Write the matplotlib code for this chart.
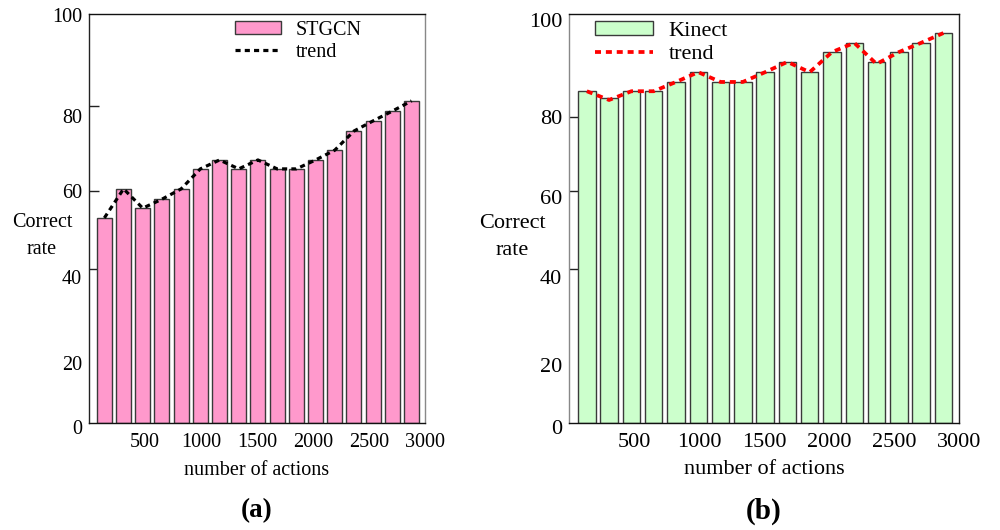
import numpy as np
import matplotlib
matplotlib.use("Agg")
import matplotlib.pyplot as plt
from matplotlib.transforms import ScaledTranslation

plt.rcParams['font.family'] = ['Liberation Serif', 'DejaVu Serif']

# ---------------- data ----------------
x_ticks = [500, 1000, 1500, 2000, 2500, 3000]
y_ticks = [0, 20, 40, 60, 80, 100]

stgcn = [53.1, 60.5, 55.6, 57.9, 60.5, 65.2, 67.3, 65.2, 67.3, 65.2, 65.2,
         67.3, 69.6, 74.1, 76.5, 78.8, 81.1]
stgcn_trend = [53.1, 60.5, 55.6, 57.9, 60.5, 65.2, 67.3, 65.2, 67.3, 65.2, 65.2,
               67.3, 69.6, 74.1, 76.5, 78.8, 81.1]
kinect = [85.0, 83.7, 85.0, 85.0, 86.8, 88.7, 86.8, 86.8, 88.7, 90.7, 88.7,
          92.6, 94.4, 90.7, 92.6, 94.4, 96.3]
kinect_trend = [85.0, 83.3, 85.0, 85.0, 86.8, 88.7, 86.8, 86.8, 88.7, 90.7, 88.7,
                92.6, 94.4, 90.3, 92.6, 94.4, 96.3]

# the original y axes are drawn with uneven spacing between tick marks
left_tick_frac = [0.0, 0.1467, 0.3765, 0.5672, 0.7751, 1.0]
right_tick_frac = [0.0, 0.1418, 0.3765, 0.5672, 0.7482, 1.0]
left_label_shift_px = [4, 0, 8, 0, 10, 1]
right_label_shift_px = [4, 0, 8, 6, 0, 6]

fig = plt.figure(figsize=(10, 5.3), dpi=100)


def make_panel(rect, values, trend, fracs, shifts, bar_color, line_color,
               name, letter, fs, lab_xy, leg_anchor, handlelen, lw_line, dash,
               left_spine_col, right_spine_col, xlabelpad):
    ax = fig.add_axes(rect)
    fwd = lambda v: np.interp(v, y_ticks, fracs)
    inv = lambda f: np.interp(f, fracs, y_ticks)
    ax.set_yscale('function', functions=(fwd, inv))
    n = len(values)
    step = 3000 / 17.5
    xs = (np.arange(n) + 0.8) * step
    bars = ax.bar(xs, values, width=134, color=bar_color, edgecolor='#3a3a3a',
                  linewidth=1.0, label=name, zorder=2)
    ln, = ax.plot(xs, trend, color=line_color, linewidth=lw_line,
                  linestyle=(0, dash), label='trend', zorder=3)
    ax.set_xlim(0, 3000)
    ax.set_ylim(0, 100)
    ax.set_xticks(x_ticks)
    ax.set_xticklabels([str(t) for t in x_ticks], fontsize=fs)
    ax.set_yticks(y_ticks)
    ax.set_yticklabels([str(t) for t in y_ticks], fontsize=fs)
    ax.yaxis.set_minor_locator(matplotlib.ticker.NullLocator())
    ax.tick_params(axis='x', length=0, pad=7)
    ax.tick_params(axis='y', direction='in', length=7, width=1, pad=5,
                   color='#222')
    for tk, sh, v in zip(ax.yaxis.get_major_ticks(), shifts, y_ticks):
        tk.label1.set_transform(tk.label1.get_transform() +
                                ScaledTranslation(0, -sh / 100, fig.dpi_scale_trans))
        if v in (0, 20, 100):
            tk.tick1line.set_visible(False)
    for s in ax.spines.values():
        s.set_linewidth(1.0)
        s.set_color('#111')
    ax.spines['left'].set_color(left_spine_col)
    ax.spines['right'].set_color(right_spine_col)
    ax.set_xlabel('number of actions', fontsize=fs, labelpad=xlabelpad)
    ax.set_ylabel('Correct\nrate', rotation=0, fontsize=fs, ha='center',
                  va='center', linespacing=1.55)
    ax.yaxis.set_label_coords(*lab_xy)
    ax.legend(handles=[bars, ln], loc='upper left', bbox_to_anchor=leg_anchor,
              frameon=False, fontsize=fs, handlelength=handlelen,
              handleheight=0.6, handletextpad=0.7, labelspacing=0.15,
              borderpad=0, borderaxespad=0)
    ax.text(0.5, -0.215, letter, transform=ax.transAxes, ha='center',
            va='center', fontsize=fs + 5, fontweight='bold')
    return ax


make_panel([0.089, 0.2019, 0.336, 0.7717], stgcn, stgcn_trend,
           left_tick_frac, left_label_shift_px, '#FF99CC', 'black', 'STGCN',
           '(a)', 14.5, (-0.14, 0.457), (0.435, 0.983), 2.3, 2.3, (1.6, 1.3),
           '#222', '#888', 7)
make_panel([0.569, 0.2019, 0.390, 0.7717], kinect, kinect_trend,
           right_tick_frac, right_label_shift_px, '#CCFFCC', 'red', 'Kinect',
           '(b)', 16, (-0.146, 0.455), (0.067, 0.983), 2.6, 2.7, (1.6, 1.3),
           '#888', '#222', 6)

fig.savefig('out.png', dpi=100)
